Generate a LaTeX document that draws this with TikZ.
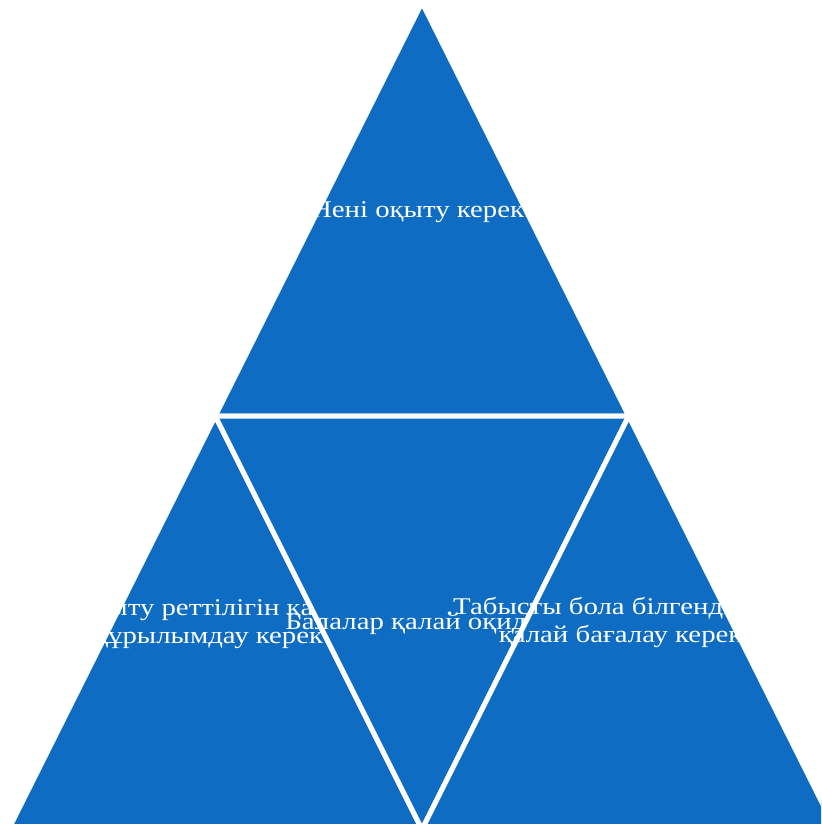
\documentclass[tikz,border=0pt]{standalone}
\usepackage{fontspec}
\setmainfont{Liberation Serif}[FakeStretch=1.2]
\definecolor{triblue}{RGB}{14,108,194}
\begin{document}
\begin{tikzpicture}[x=0.75pt,y=-0.75pt,
  tri/.style={fill=triblue,draw=white,line width=3.75pt,line join=miter},
  lbl/.style={text=white,font=\fontsize{18}{21}\selectfont,align=center,inner sep=0pt}]
\useasboundingbox (0,0) rectangle (821,824);
\clip (0,0) rectangle (821,824);
\fill[white] (0,0) rectangle (821,824);
% corner points of the big triangle
\coordinate (A) at (422,2.5);
\coordinate (ML) at (215.25,416);
\coordinate (MR) at (628.75,416);
\coordinate (BL) at (8.5,829.5);
\coordinate (BM) at (422,829.5);
\coordinate (BR) at (835.5,829.5);
% top
\draw[tri] (A) -- (ML) -- (MR) -- cycle;
\node[lbl,anchor=base] (ttop) at (424,217) {Нені оқыту керек?};
% left
\draw[tri] (ML) -- (BL) -- (BM) -- cycle;
\node[lbl,anchor=base] (tleft) at (215,643) {Оқыту реттілігін қалай\\құрылымдау керек?};
% middle
\draw[tri] (ML) -- (MR) -- (BM) -- cycle;
\node[lbl,anchor=base] (tmid) at (422,629) {Балалар қалай оқиды?};
% right
\draw[tri] (MR) -- (BM) -- (BR) -- cycle;
\node[lbl,anchor=base] (tright) at (627,642) {.Табысты бола білгендіктерін\\қалай бағалау керек?};
\end{tikzpicture}
\end{document}
